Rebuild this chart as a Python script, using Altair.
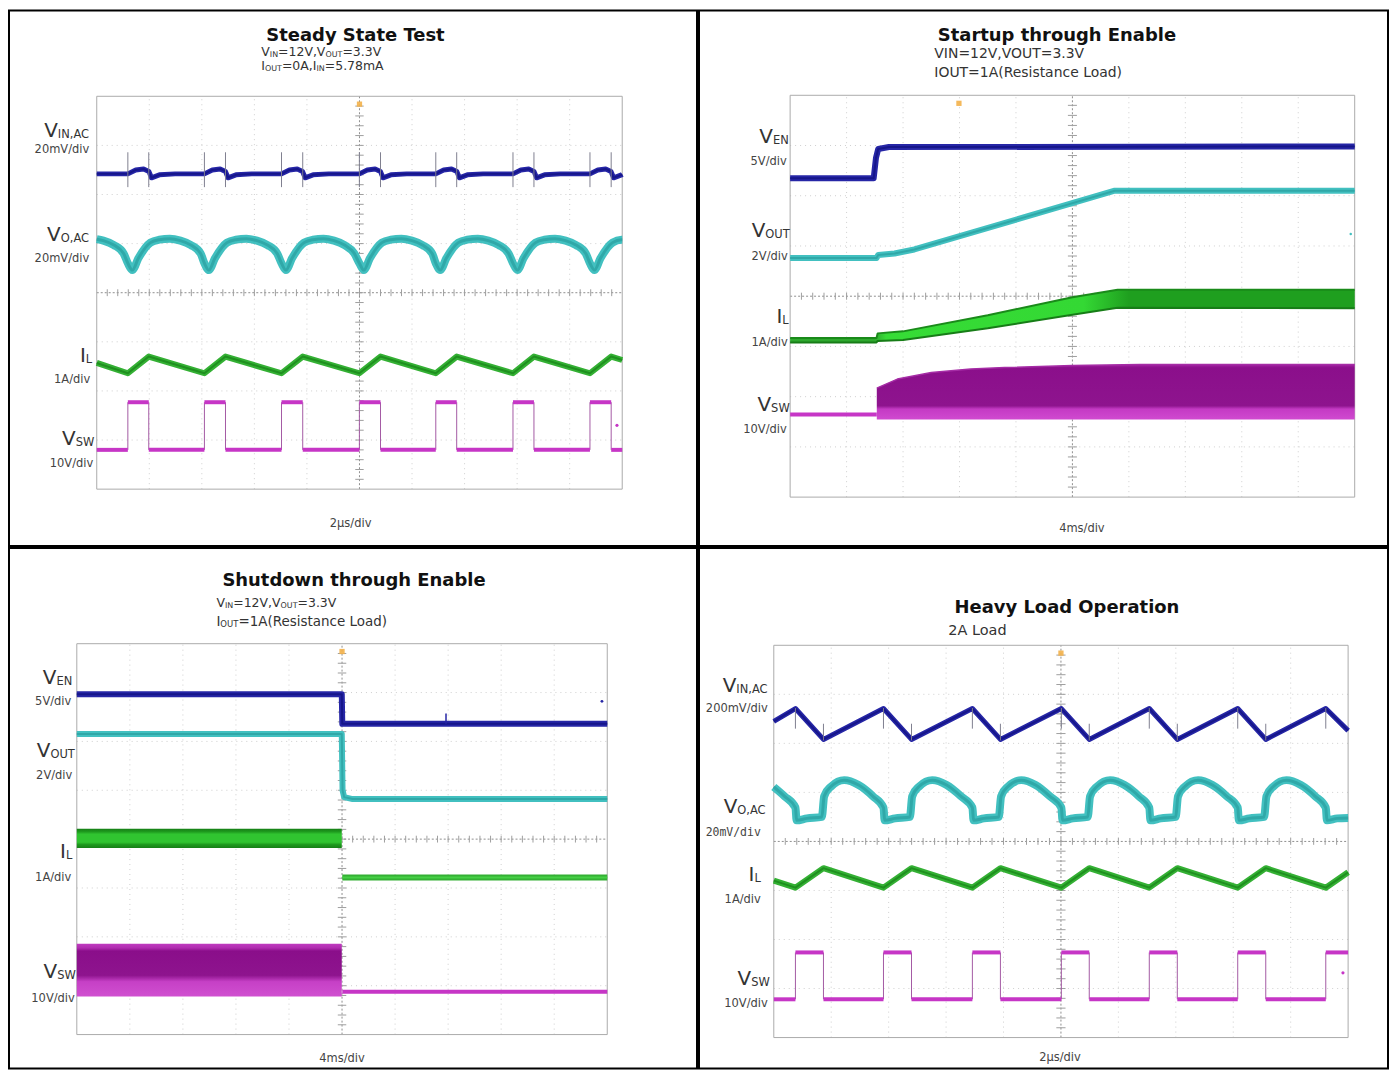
import altair as alt
import pandas as pd

FONT = "DejaVu Sans"
MONO = "DejaVu Sans Mono"

# ================= values =================
# x: scope divisions 0..10 (left -> right), y: scope divisions 0..8 (bottom -> top)

# ---- Panel 1: Steady State Test (2us/div)
p1_on = [0.592, 2.049, 3.516, 4.998, 6.452, 7.921, 9.386]
p1_off = [0.990, 2.450, 3.920, 5.400, 6.850, 8.320, 9.790]
p1_vsw = [0.80, 1.77]
p1_il = [2.36, 2.70]
p1_il_ends = [2.57, 2.63]
p1_vin_dt = [0.0, 0.15, 0.30, 0.40, 0.45, 0.60, 0.90]
p1_vin_v = [6.42, 6.50, 6.52, 6.47, 6.34, 6.40, 6.42]
p1_vin_ends = [6.42, 6.41]
p1_vin_spike = [6.15, 6.86]
p1_vo_dt = [0.0, 0.085, 0.20, 0.43, 0.60, 0.80, 1.00, 1.20, 1.385]
p1_vo_v = [4.60, 4.46, 4.70, 5.02, 5.08, 5.10, 5.06, 4.97, 4.80]
p1_vo_ends = [5.09, 5.08]
p1_dot = [9.90, 1.30]
p1_trig = 5.0

# ---- Panel 2: Startup through Enable (4ms/div)
p2_ven_x = [0, 1.48, 1.52, 1.56, 1.75, 10]
p2_ven_y = [6.35, 6.35, 6.75, 6.93, 6.97, 6.98]
p2_vout_x = [0, 1.53, 1.56, 1.85, 2.2, 5.75, 10]
p2_vout_y = [4.76, 4.76, 4.82, 4.85, 4.93, 6.10, 6.10]
p2_il_x = [0, 1.53, 1.55, 2.0, 3.5, 5.0, 5.8, 10]
p2_il_hi = [3.17, 3.17, 3.26, 3.30, 3.62, 3.98, 4.13, 4.13]
p2_il_lo = [3.08, 3.08, 3.11, 3.13, 3.36, 3.63, 3.77, 3.76]
p2_vsw_pre_x = [0, 1.535]
p2_vsw_pre_y = [1.645, 1.645]
p2_vsw_x = [1.535, 1.9, 2.5, 3.2, 3.8, 5.0, 6.2, 10]
p2_vsw_hi = [2.17, 2.35, 2.48, 2.55, 2.58, 2.62, 2.64, 2.64]
p2_vsw_lo = [1.545] * 8
p2_dot = [9.93, 5.24]
p2_trig = 2.99

# ---- Panel 3: Shutdown through Enable (4ms/div)
p3_ven_x = [0, 4.995, 5.005, 10]
p3_ven_y = [6.967, 6.967, 6.36, 6.36]
p3_vout_x = [0, 4.995, 5.01, 5.04, 5.2, 10]
p3_vout_y = [6.15, 6.15, 5.00, 4.86, 4.82, 4.82]
p3_il_band_x = [0, 4.995]
p3_il_band_hi = [4.21, 4.21]
p3_il_band_lo = [3.82, 3.82]
p3_il_after_x = [5.005, 10]
p3_il_after_y = [3.215, 3.215]
p3_vsw_band_x = [0, 4.995]
p3_vsw_band_hi = [1.86, 1.86]
p3_vsw_band_lo = [0.78, 0.78]
p3_vsw_after_x = [5.005, 10]
p3_vsw_after_y = [0.875, 0.875]
p3_ven_spike = [6.96, 6.36, 6.57]
p3_dot = [9.90, 6.82]
p3_trig = 5.0

# ---- Panel 4: Heavy Load Operation (2us/div)
p4_on = [0.377, 1.910, 3.458, 5.007, 6.538, 8.078, 9.611]
p4_off = [0.865, 2.398, 3.946, 5.493, 7.026, 8.566]
p4_vsw = [0.78, 1.736]
p4_il = [3.057, 3.455]
p4_il_ends = [3.20, 3.37]
p4_vin = [6.71, 6.08]          # level at switch-on, level at switch-off
p4_vin_ends = [6.45, 6.26]
p4_vin_spike_on = [6.30, 6.72]
p4_vin_spike_off = [6.06, 6.40]
p4_vo_dt = [0.0, 0.02, 0.20, 0.46, 0.50, 0.62, 0.85, 1.10, 1.35]
p4_vo_v = [4.69, 4.43, 4.47, 4.50, 4.92, 5.12, 5.25, 5.15, 4.92]
p4_vo_ends = [5.11, 4.48]
p4_dot = [9.91, 1.32]
p4_trig = 5.0

# ---- texts
titles = [("p1", "Steady State Test", 355.5, 38.5), ("p2", "Startup through Enable", 1057, 39),
          ("p3", "Shutdown through Enable", 354, 583), ("p4", "Heavy Load Operation", 1067, 610)]
footers = [("p1", "2\u03bcs/div", 350.6, 526), ("p2", "4ms/div", 1082, 531),
           ("p3", "4ms/div", 342, 1061), ("p4", "2\u03bcs/div", 1060, 1060)]
# subtitle lines: panel, left, baseline, runs (text, is_subscript), size, subscript size
subtitles = [
    ("p1", 261, 54, [("V", 0), ("IN", 1), ("=12V,V", 0), ("OUT", 1), ("=3.3V", 0)], 12.5, 8),
    ("p1", 261, 68, [("I", 0), ("OUT", 1), ("=0A,I", 0), ("IN", 1), ("=5.78mA", 0)], 12.5, 8),
    ("p2", 934, 56, [("VIN=12V,VOUT=3.3V", 0)], 14, 9),
    ("p2", 934, 75, [("IOUT=1A(Resistance Load)", 0)], 14, 9),
    ("p3", 216, 604.5, [("V", 0), ("IN", 1), ("=12V,V", 0), ("OUT", 1), ("=3.3V", 0)], 12.5, 8),
    ("p3", 216, 623.5, [("I", 0), ("OUT", 1), ("=1A(Resistance Load)", 0)], 13.5, 8.5),
    ("p4", 948, 632, [("2A Load", 0)], 14.5, 9),
]
# channel labels: panel, right edge, baseline, main, subscript
chan_labels = [
    ("p1", 88.5, 135, "V", "IN,AC"), ("p1", 88.5, 239, "V", "O,AC"), ("p1", 91.5, 360, "I", "L"), ("p1", 93.5, 444, "V", "SW"),
    ("p2", 788, 141, "V", "EN"), ("p2", 789, 235, "V", "OUT"), ("p2", 788, 321, "I", "L"), ("p2", 789, 410, "V", "SW"),
    ("p3", 71.5, 681, "V", "EN"), ("p3", 74, 755, "V", "OUT"), ("p3", 71.5, 856, "I", "L"), ("p3", 75, 976, "V", "SW"),
    ("p4", 767, 689, "V", "IN,AC"), ("p4", 765, 811, "V", "O,AC"), ("p4", 760, 879, "I", "L"), ("p4", 769, 983, "V", "SW"),
]
# scale labels: panel, right edge, baseline, text, monospace?
scale_labels = [
    ("p1", 88.5, 151, "20mV/div", 0), ("p1", 88.5, 260, "20mV/div", 0), ("p1", 89.5, 382, "1A/div", 0), ("p1", 92.5, 466, "10V/div", 0),
    ("p2", 786, 163, "5V/div", 0), ("p2", 787, 258, "2V/div", 0), ("p2", 787, 344, "1A/div", 0), ("p2", 786, 432, "10V/div", 0),
    ("p3", 70.5, 702, "5V/div", 0), ("p3", 71.5, 777, "2V/div", 0), ("p3", 70.5, 879, "1A/div", 0), ("p3", 74, 1000, "10V/div", 0),
    ("p4", 767, 710, "200mV/div", 0), ("p4", 760, 834, "20mV/div", 1), ("p4", 760, 901, "1A/div", 0), ("p4", 767, 1005, "10V/div", 0),
]

# ================= page layout (pixels) =================
CELL = {"p1": (8, 8, 690, 537), "p2": (698, 8, 691, 537),
        "p3": (8, 545, 690, 522), "p4": (698, 545, 691, 522)}
SCREEN = {"p1": (96, 94, 623, 488), "p2": (789.4, 93, 1355.6, 496),
          "p3": (76, 641, 608, 1033), "p4": (773, 642.6, 1349, 1036)}

BLUE, BLUE_D = "#2626a6", "#16168a"
CYAN, CYAN_D = "#42c0c0", "#30a8a8"
GREEN, GREEN_D = "#34b034", "#1f901f"
MAG = "#c636c6"
SPIKE = "#808090"

W = {' ': .318, '(': .390, ')': .390, ',': .318, '.': .318, '/': .337, '=': .838,
     'A': .684, 'C': .698, 'E': .632, 'I': .295, 'L': .557, 'N': .748, 'O': .787, 'R': .695,
     'S': .635, 'T': .611, 'U': .732, 'V': .684, 'W': .989, 'a': .613, 'c': .550, 'd': .635,
     'e': .615, 'i': .278, 'm': .974, 'n': .634, 'o': .612, 's': .521, 't': .392, 'v': .592}
for dch in "0123456789":
    W[dch] = .636


def tw(s, fs):
    return sum(W.get(ch, .62) for ch in s) * fs


class Panel:
    def __init__(self, name):
        self.name = name
        cx, cy, cw, ch = CELL[name]
        x0, y0, x1, y1 = SCREEN[name]
        kx, ky = (x1 - x0) / 10, (y1 - y0) / 8
        self.xs = alt.Scale(domain=[(cx - x0) / kx, (cx + cw - x0) / kx], nice=False, zero=False)
        self.ys = alt.Scale(domain=[8 - (cy + ch - y0) / ky, 8 + (y0 - cy) / ky], nice=False, zero=False)
        self.layers = []
        self.txt = []

    def X(self, f):
        return alt.X(f, type="quantitative", scale=self.xs, axis=None)

    def Y(self, f):
        return alt.Y(f, type="quantitative", scale=self.ys, axis=None)

    def line(self, xs, ys, color, width, interp="linear"):
        df = pd.DataFrame({"x": list(xs), "y": list(ys), "i": list(range(len(xs)))})
        self.layers.append(alt.Chart(df).mark_line(color=color, strokeWidth=width, interpolate=interp,
                                                   strokeJoin="round", clip=True)
                           .encode(x=self.X("x"), y=self.Y("y"), order=alt.Order("i:Q")))

    def area(self, xs, hi, lo, color):
        df = pd.DataFrame({"x": list(xs), "hi": list(hi), "lo": list(lo)})
        self.layers.append(alt.Chart(df).mark_area(color=color, interpolate="linear")
                           .encode(x=self.X("x"), y=self.Y("hi"), y2=alt.Y2("lo")))

    def hrules(self, x1, x2, y, color, width, dash=None):
        df = pd.DataFrame({"x1": list(x1), "x2": list(x2), "y": list(y)})
        kw = dict(color=color, strokeWidth=width)
        if dash:
            kw["strokeDash"] = dash
        self.layers.append(alt.Chart(df).mark_rule(**kw)
                           .encode(x=self.X("x1"), x2=alt.X2("x2"), y=self.Y("y")))

    def vrules(self, x, y1, y2, color, width, dash=None):
        df = pd.DataFrame({"x": list(x), "y1": list(y1), "y2": list(y2)})
        kw = dict(color=color, strokeWidth=width)
        if dash:
            kw["strokeDash"] = dash
        self.layers.append(alt.Chart(df).mark_rule(**kw)
                           .encode(x=self.X("x"), y=self.Y("y1"), y2=alt.Y2("y2")))

    def dot(self, x, y, color, size=10):
        df = pd.DataFrame({"x": [x], "y": [y]})
        self.layers.append(alt.Chart(df).mark_circle(color=color, size=size, opacity=1)
                           .encode(x=self.X("x"), y=self.Y("y")))

    def trigger(self, x):
        df = pd.DataFrame({"x": [x], "y": [7.84]})
        self.layers.append(alt.Chart(df).mark_point(shape="square", filled=True, size=28, color="#f3b14a", opacity=0.9)
                           .encode(x=self.X("x"), y=self.Y("y")))

    def grid(self):
        div_x = [v for v in range(1, 10) if v != 5]
        div_y = [v for v in range(1, 8) if v != 4]
        self.vrules(div_x, [0] * len(div_x), [8] * len(div_x), "#cfcfcf", 1, [1, 4])
        self.hrules([0] * len(div_y), [10] * len(div_y), div_y, "#cfcfcf", 1, [1, 4])
        self.vrules([5], [0], [8], "#8f8f8f", 1, [2, 2])
        self.hrules([0], [10], [4], "#8f8f8f", 1, [2, 2])
        tx = [i * 0.2 for i in range(1, 50)]
        ty = [i * 0.2 for i in range(1, 40)]
        self.vrules(tx, [3.93] * len(tx), [4.07] * len(tx), "#9f9f9f", 1)
        self.hrules([4.92] * len(ty), [5.08] * len(ty), ty, "#9f9f9f", 1)
        # screen border
        self.hrules([0, 0], [10, 10], [0, 8], "#ababab", 1)
        self.vrules([0, 10], [0, 0], [8, 8], "#ababab", 1)

    def text(self, px, py, t, fs, align, font=FONT, weight="normal", color="#333"):
        cx, cy, _, _ = CELL[self.name]
        self.txt.append(dict(px=px - cx, py=py - cy, t=t, fs=fs, align=align, font=font, weight=weight, c=color))

    def build(self):
        layers = list(self.layers)
        df = pd.DataFrame(self.txt)
        for (align, font, weight), g in df.groupby(["align", "font", "weight"]):
            layers.append(alt.Chart(g.drop(columns=["align", "font", "weight"])).mark_text(
                align=align, baseline="alphabetic", font=font, fontWeight=weight)
                .encode(x=alt.X("px:Q", scale=None, axis=None), y=alt.Y("py:Q", scale=None, axis=None),
                        text=alt.Text("t:N"), size=alt.Size("fs:Q", scale=None, legend=None),
                        color=alt.Color("c:N", scale=None, legend=None)))
        _, _, cw, ch = CELL[self.name]
        return alt.layer(*layers).resolve_scale(x="independent", y="independent").properties(width=cw, height=ch)


def periodic(on, dts, vals, ends):
    per = (on[-1] - on[0]) / (len(on) - 1)
    pts = [(0.0, ends[0])]
    for s in [on[0] - per] + list(on):
        for dt, v in zip(dts, vals):
            if 0 < s + dt < 10:
                pts.append((s + dt, v))
    pts.append((10.0, ends[1]))
    pts.sort()
    return [p[0] for p in pts], [p[1] for p in pts]


def zigzag(on, off, v_on, v_off, ends):
    pts = [(0.0, ends[0])]
    for i, s in enumerate(on):
        pts.append((s, v_on))
        if i < len(off):
            pts.append((off[i], v_off))
    pts.append((10.0, ends[1]))
    return [p[0] for p in pts], [p[1] for p in pts]


def add_vsw(P, on, off, lo, hi):
    hx1, hx2, hy, ex = [], [], [], []
    t = 0.0
    for i, s in enumerate(on):
        hx1.append(t); hx2.append(s); hy.append(lo); ex.append(s)
        e = off[i] if i < len(off) else 10.0
        hx1.append(s); hx2.append(e); hy.append(hi)
        if i < len(off):
            ex.append(e)
        t = e
    if t < 10:
        hx1.append(t); hx2.append(10.0); hy.append(lo)
    P.vrules(ex, [lo] * len(ex), [hi] * len(ex), "#a45aa4", 1)
    P.hrules(hx1, hx2, hy, MAG, 4)


def vgrad(stops):
    return {"gradient": "linear", "x1": 0, "y1": 0, "x2": 0, "y2": 1,
            "stops": [{"offset": o, "color": c} for o, c in stops]}


def hgrad(stops):
    return {"gradient": "linear", "x1": 0, "y1": 0, "x2": 1, "y2": 0,
            "stops": [{"offset": o, "color": c} for o, c in stops]}


panels = {n: Panel(n) for n in ["p1", "p2", "p3", "p4"]}
for P in panels.values():
    P.grid()

# ---- panel 1 traces
P = panels["p1"]
x, y = periodic(p1_on, p1_vin_dt, p1_vin_v, p1_vin_ends)
P.line(x, y, BLUE, 5)
P.line(x, y, BLUE_D, 2)
edges = sorted(p1_on + p1_off)
P.vrules(edges, [p1_vin_spike[0]] * len(edges), [p1_vin_spike[1]] * len(edges), SPIKE, 1)
x, y = periodic(p1_on, p1_vo_dt, p1_vo_v, p1_vo_ends)
P.line(x, y, CYAN, 8, "monotone")
P.line(x, y, CYAN_D, 3, "monotone")
x, y = zigzag(p1_on, p1_off, p1_il[0], p1_il[1], p1_il_ends)
P.line(x, y, GREEN, 6)
P.line(x, y, GREEN_D, 2)
add_vsw(P, p1_on, p1_off, p1_vsw[0], p1_vsw[1])
P.dot(p1_dot[0], p1_dot[1], MAG)
P.trigger(p1_trig)

# ---- panel 2 traces
P = panels["p2"]
P.line(p2_ven_x, p2_ven_y, BLUE, 6)
P.line(p2_ven_x, p2_ven_y, BLUE_D, 2)
P.line(p2_vout_x, p2_vout_y, CYAN, 6)
P.line(p2_vout_x, p2_vout_y, CYAN_D, 2)
P.area(p2_il_x, p2_il_hi, p2_il_lo, hgrad([(0, "#2ea82e"), (0.15, "#2ea82e"), (0.17, "#36dc36"),
                                           (0.52, "#34d834"), (0.6, "#1f9f1f"), (1, "#1f9f1f")]))
P.line(p2_il_x, p2_il_hi, "#1a8a1a", 2)
P.line(p2_il_x, p2_il_lo, "#177d17", 2)
P.line(p2_vsw_pre_x, p2_vsw_pre_y, MAG, 4)
P.area(p2_vsw_x, p2_vsw_hi, p2_vsw_lo, vgrad([(0, "#a322a3"), (0.06, "#8b0f8b"), (0.75, "#8e148e"),
                                               (0.81, "#c43ac4"), (1, "#d04ad0")]))
P.line(p2_vsw_x, p2_vsw_hi, "#a52ca5", 1.5)
P.dot(p2_dot[0], p2_dot[1], CYAN, 6)
P.trigger(p2_trig)

# ---- panel 3 traces
P = panels["p3"]
P.line(p3_ven_x, p3_ven_y, BLUE, 6)
P.line(p3_ven_x, p3_ven_y, BLUE_D, 2)
P.vrules([p3_ven_spike[0]], [p3_ven_spike[1]], [p3_ven_spike[2]], BLUE, 1.5)
P.line(p3_vout_x, p3_vout_y, CYAN, 6)
P.line(p3_vout_x, p3_vout_y, CYAN_D, 2)
P.area(p3_il_band_x, p3_il_band_hi, p3_il_band_lo,
       vgrad([(0, "#167f16"), (0.15, "#1e9a1e"), (0.28, "#30c430"), (0.7, "#30c430"), (0.82, "#1e9a1e"), (1, "#167f16")]))
P.line(p3_il_after_x, p3_il_after_y, GREEN, 6)
P.line(p3_il_after_x, p3_il_after_y, "#45d045", 2)
P.area(p3_vsw_band_x, p3_vsw_band_hi, p3_vsw_band_lo,
       vgrad([(0, "#c03cc0"), (0.08, "#b02cb0"), (0.14, "#8a0e8a"), (0.6, "#8e148e"),
              (0.72, "#c640c6"), (1, "#d050d0")]))
P.line(p3_vsw_after_x, p3_vsw_after_y, MAG, 4)
P.dot(p3_dot[0], p3_dot[1], BLUE, 8)
P.trigger(p3_trig)

# ---- panel 4 traces
P = panels["p4"]
x, y = zigzag(p4_on, p4_off, p4_vin[0], p4_vin[1], p4_vin_ends)
P.line(x, y, BLUE, 5)
P.line(x, y, BLUE_D, 2)
P.vrules(p4_on, [p4_vin_spike_on[0]] * len(p4_on), [p4_vin_spike_on[1]] * len(p4_on), SPIKE, 1)
P.vrules(p4_off, [p4_vin_spike_off[0]] * len(p4_off), [p4_vin_spike_off[1]] * len(p4_off), SPIKE, 1)
x, y = periodic(p4_on, p4_vo_dt, p4_vo_v, p4_vo_ends)
P.line(x, y, CYAN, 8, "monotone")
P.line(x, y, CYAN_D, 3, "monotone")
x, y = zigzag(p4_on, p4_off, p4_il[0], p4_il[1], p4_il_ends)
P.line(x, y, GREEN, 6)
P.line(x, y, GREEN_D, 2)
add_vsw(P, p4_on, p4_off, p4_vsw[0], p4_vsw[1])
P.dot(p4_dot[0], p4_dot[1], MAG)
P.trigger(p4_trig)

# ---- texts
for p, t, cxp, base in titles:
    panels[p].text(cxp, base, t, 18, "center", weight="bold", color="#111")
for p, t, cxp, base in footers:
    panels[p].text(cxp, base, t, 11.5, "center", color="#444")
for p, left, base, parts, fs, ss in subtitles:
    xx = left
    for t, sub in parts:
        size = ss if sub else fs
        panels[p].text(xx, base + (1 if sub else 0), t, size, "left", color="#333")
        xx += tw(t, size)
for p, right, base, main, sub in chan_labels:
    a = right - tw(sub, 11.5)
    panels[p].text(a, base + 1, sub, 11.5, "left", color="#333")
    panels[p].text(a, base, main, 20, "right", color="#333")
for p, right, base, t, mono in scale_labels:
    panels[p].text(right, base, t, 11.5, "right", font=MONO if mono else FONT, color="#444")

top = alt.hconcat(panels["p1"].build(), panels["p2"].build(), spacing=0)
bottom = alt.hconcat(panels["p3"].build(), panels["p4"].build(), spacing=0)
chart = (alt.vconcat(top, bottom, spacing=0)
         .properties(padding=0, background="white")
         .configure_view(stroke="black", strokeWidth=2))

chart.save("out.html", embed_options={"renderer": "svg", "actions": False})
